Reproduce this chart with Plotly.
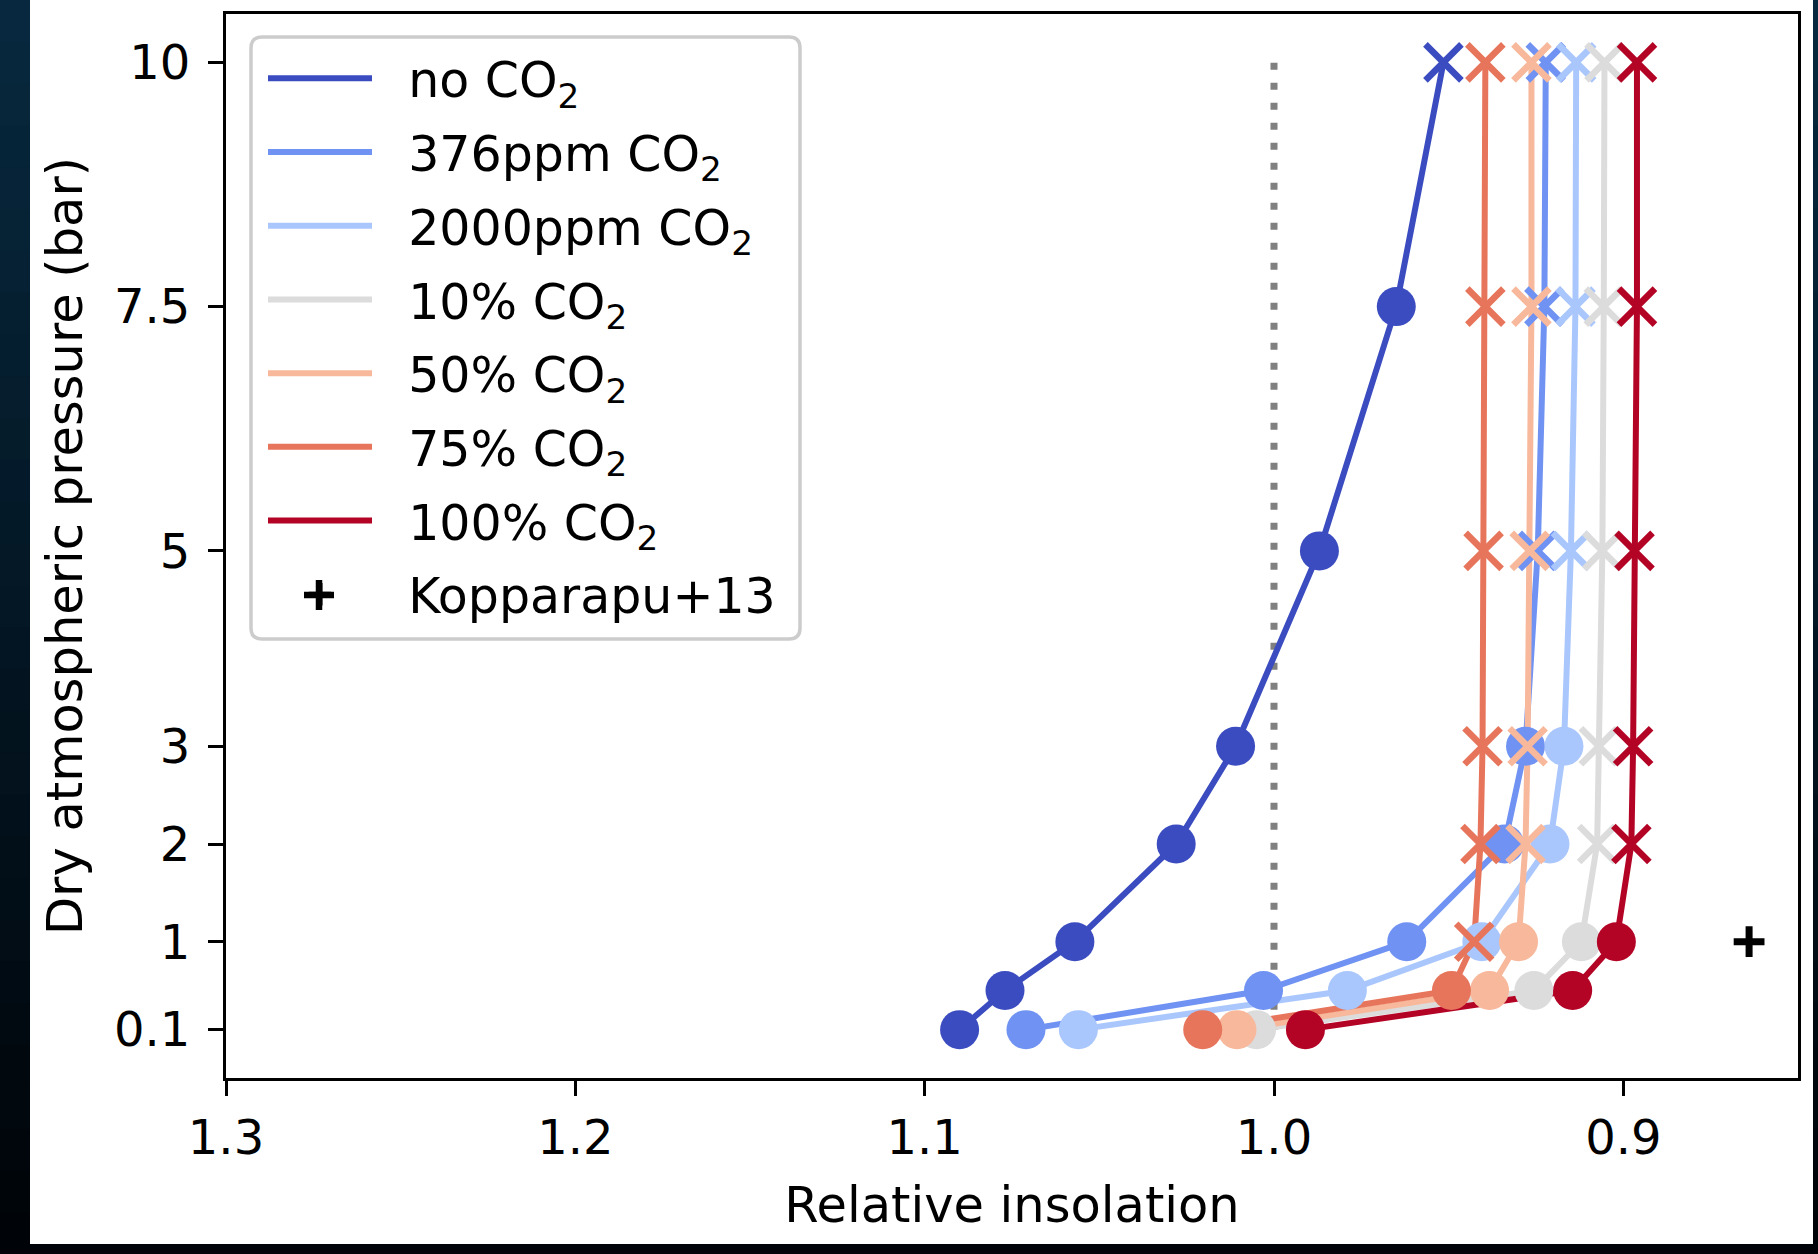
import plotly.graph_objects as go

# Dry atmospheric pressure levels (bar) shared by every run
pressure = [0.1, 0.5, 1, 2, 3, 5, 7.5, 10]

series_names = [
    "no CO<sub>2</sub>",
    "376ppm CO<sub>2</sub>",
    "2000ppm CO<sub>2</sub>",
    "10% CO<sub>2</sub>",
    "50% CO<sub>2</sub>",
    "75% CO<sub>2</sub>",
    "100% CO<sub>2</sub>",
]
# coolwarm samples, one per CO2 case
series_colors = ["#3b4cc0", "#7093f3", "#aac7fd", "#dddcdc", "#f7b89c", "#e7755b", "#b40426"]

# Relative insolation at each pressure level
insol_no_co2 = [1.090, 1.077, 1.057, 1.028, 1.011, 0.987, 0.965, 0.9515]
insol_376ppm = [1.071, 1.003, 0.962, 0.934, 0.928, 0.9245, 0.9226, 0.9222]
insol_2000ppm = [1.056, 0.979, 0.9405, 0.921, 0.917, 0.915, 0.9137, 0.9135]
insol_10pct = [1.005, 0.9256, 0.912, 0.9075, 0.907, 0.906, 0.9056, 0.9054]
insol_50pct = [1.0106, 0.9383, 0.930, 0.928, 0.9274, 0.9268, 0.9263, 0.9263]
insol_75pct = [1.0204, 0.9492, 0.9427, 0.9409, 0.9403, 0.940, 0.9395, 0.9395]
insol_100pct = [0.991, 0.9145, 0.902, 0.8977, 0.8972, 0.8968, 0.8961, 0.8961]

series_values = [insol_no_co2, insol_376ppm, insol_2000ppm, insol_10pct,
                 insol_50pct, insol_75pct, insol_100pct]

# Number of lowest-pressure levels drawn as filled circles; the rest are crosses
n_circle = [7, 5, 5, 3, 3, 2, 3]

# Kopparapu et al. (2013) reference point
kopp_name = "Kopparapu+13"
kopp_insol = [0.864]
kopp_pressure = [1]

# Present-day insolation guide line
guide_insol = [1.0, 1.0]
guide_pressure = [0.1, 10]

x_ticks = [1.3, 1.2, 1.1, 1.0, 0.9]
x_ticktext = ["1.3", "1.2", "1.1", "1.0", "0.9"]
y_ticks = [0.1, 1, 2, 3, 5, 7.5, 10]
y_ticktext = ["0.1", "1", "2", "3", "5", "7.5", "10"]

FONT = "DejaVu Sans"
W, H = 1818, 1254
ML, MR, MT, MB = 226, 20, 14, 176
GAP = "\u00a0\u00a0"  # spacing between legend sample and label
LINE_W = 6

# legend frame, in page pixels
LEG_L, LEG_T, LEG_R, LEG_B, LEG_RAD = 251, 37, 800, 639, 11
PLUS_CX, PLUS_CY, PLUS_HALF, PLUS_W = 319, 595, 15, 6.5

fig = go.Figure()

fig.add_trace(go.Scatter(
    x=guide_insol, y=guide_pressure, mode="lines",
    line=dict(color="#808080", width=7, dash="7px,13px"),
    showlegend=False, hoverinfo="skip",
))

# connecting lines (these carry the legend entries)
for i, (name, col, vals) in enumerate(zip(series_names, series_colors, series_values)):
    fig.add_trace(go.Scatter(
        x=vals, y=pressure, mode="lines", name=GAP + name,
        line=dict(color=col, width=LINE_W),
        legendgroup=f"g{i}", legendrank=i,
    ))

# filled circles
for i, (col, vals) in enumerate(zip(series_colors, series_values)):
    k = n_circle[i]
    fig.add_trace(go.Scatter(
        x=vals[:k], y=pressure[:k], mode="markers",
        marker=dict(symbol="circle", size=39, color=col, line=dict(width=0)),
        showlegend=False, legendgroup=f"g{i}",
    ))

# crosses
for i, (col, vals) in enumerate(zip(series_colors, series_values)):
    k = n_circle[i]
    fig.add_trace(go.Scatter(
        x=vals[k:], y=pressure[k:], mode="markers",
        marker=dict(symbol="x-thin", size=36, color=col, line=dict(width=6.5, color=col)),
        showlegend=False, legendgroup=f"g{i}",
    ))

fig.add_trace(go.Scatter(
    x=kopp_insol, y=kopp_pressure, mode="markers", name=GAP + kopp_name,
    marker=dict(symbol="cross-thin", size=22, color="black", line=dict(width=7, color="black")),
    legendgroup="kopp", legendrank=10,
))

pw = W - ML - MR
ph = H - MT - MB


def px_to_paper_x(px):
    return (px - ML) / pw


def px_to_paper_y(py):
    return 1 - (py - MT) / ph


shapes = []

# dark frame around the white canvas
n_bands = 30
top_rgb = (7, 40, 62)
bot_rgb = (0, 4, 8)
for b in range(n_bands):
    t = b / (n_bands - 1)
    r, g, bl = (round(top_rgb[j] + (bot_rgb[j] - top_rgb[j]) * t) for j in range(3))
    y0 = H * b / n_bands
    y1 = H * (b + 1) / n_bands + 1
    shapes.append(dict(
        type="rect", xref="paper", yref="paper", layer="below",
        x0=px_to_paper_x(0), x1=px_to_paper_x(W),
        y0=px_to_paper_y(y1), y1=px_to_paper_y(y0),
        fillcolor=f"rgb({r},{g},{bl})", line=dict(width=0),
    ))
shapes.append(dict(
    type="rect", xref="paper", yref="paper", layer="below",
    x0=px_to_paper_x(30), x1=px_to_paper_x(1813),
    y0=px_to_paper_y(1244), y1=px_to_paper_y(0),
    fillcolor="white", line=dict(width=0),
))

# rounded legend frame
rx = LEG_RAD / pw
ry = LEG_RAD / ph
lx0, lx1 = px_to_paper_x(LEG_L), px_to_paper_x(LEG_R)
ly0, ly1 = px_to_paper_y(LEG_B), px_to_paper_y(LEG_T)
frame_path = (
    f"M{lx0 + rx},{ly1} L{lx1 - rx},{ly1} Q{lx1},{ly1} {lx1},{ly1 - ry} "
    f"L{lx1},{ly0 + ry} Q{lx1},{ly0} {lx1 - rx},{ly0} "
    f"L{lx0 + rx},{ly0} Q{lx0},{ly0} {lx0},{ly0 + ry} "
    f"L{lx0},{ly1 - ry} Q{lx0},{ly1} {lx0 + rx},{ly1} Z"
)
shapes.append(dict(
    type="path", xref="paper", yref="paper", layer="above", path=frame_path,
    fillcolor="white", line=dict(color="#cccccc", width=3.5),
))
# legend key for the Kopparapu+13 point, full marker size
shapes.append(dict(
    type="line", xref="paper", yref="paper", layer="above",
    x0=px_to_paper_x(PLUS_CX - PLUS_HALF), x1=px_to_paper_x(PLUS_CX + PLUS_HALF),
    y0=px_to_paper_y(PLUS_CY), y1=px_to_paper_y(PLUS_CY),
    line=dict(color="black", width=PLUS_W),
))
shapes.append(dict(
    type="line", xref="paper", yref="paper", layer="above",
    x0=px_to_paper_x(PLUS_CX), x1=px_to_paper_x(PLUS_CX),
    y0=px_to_paper_y(PLUS_CY + PLUS_HALF), y1=px_to_paper_y(PLUS_CY - PLUS_HALF),
    line=dict(color="black", width=PLUS_W),
))

fig.update_layout(
    width=W, height=H,
    margin=dict(l=ML, r=MR, t=MT, b=MB, pad=0),
    paper_bgcolor="black", plot_bgcolor="white",
    font=dict(family=FONT, size=48, color="black"),
    shapes=shapes,
    showlegend=True,
    legend=dict(
        x=px_to_paper_x(LEG_L), y=px_to_paper_y(LEG_T), xanchor="left", yanchor="top",
        bgcolor="rgba(0,0,0,0)", bordercolor="rgba(0,0,0,0)", borderwidth=3,
        font=dict(family=FONT, size=49, color="black"),
        itemwidth=104, tracegroupgap=7, traceorder="grouped", indentation=9,
    ),
    xaxis=dict(
        range=[1.3, 0.85], tickvals=x_ticks, ticktext=x_ticktext,
        showgrid=False, zeroline=False,
        showline=True, linecolor="black", linewidth=3, mirror=True,
        ticks="outside", ticklen=15, tickwidth=3, tickcolor="black",
        tickfont=dict(size=48), ticklabelstandoff=0,
        title=dict(text="Relative insolation", font=dict(size=49.5), standoff=24),
    ),
    yaxis=dict(
        range=[-0.395, 10.495], tickvals=y_ticks, ticktext=y_ticktext,
        showgrid=False, zeroline=False,
        showline=True, linecolor="black", linewidth=3, mirror=True,
        ticks="outside", ticklen=15, tickwidth=3, tickcolor="black",
        tickfont=dict(size=48), ticklabelstandoff=8,
        title=dict(text="Dry atmospheric pressure (bar)", font=dict(size=49.5), standoff=16),
    ),
)

fig.write_html("out.html")
